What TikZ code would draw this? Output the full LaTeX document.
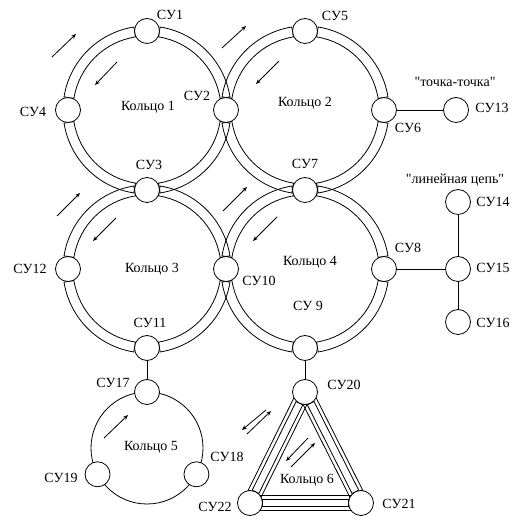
\documentclass[tikz,border=0pt]{standalone}
\usepackage{fontspec}
\setmainfont{Liberation Serif}[Ligatures=TeXOff]
\usetikzlibrary{calc,arrows.meta,backgrounds}
\begin{document}
\begin{tikzpicture}[x=1pt,y=1pt,
  su/.style={circle,draw,fill=white,minimum size=25pt,inner sep=0pt,line width=0.8pt},
  lbl/.style={font=\fontsize{14}{16}\selectfont,inner sep=0pt},
  ln/.style={line width=0.8pt},
  arr/.style={line width=0.8pt,-{Stealth[length=5pt,width=4pt]}}]
\useasboundingbox (0,0) rectangle (530,532);
% ring centres
\coordinate (C1) at (147,422);
\coordinate (C2) at (305,422);
\coordinate (C3) at (147,263);
\coordinate (C4) at (305,263);
\coordinate (C5) at (147,84);
% nodes
\node[su] (SU1) at (147,501) {};
\node[su] (SU2) at (226,422) {};
\node[su] (SU3) at (147,342) {};
\node[su] (SU4) at (68,422) {};
\node[su] (SU5) at (305,501) {};
\node[su] (SU6) at (384,422) {};
\node[su] (SU7) at (305,342) {};
\node[su] (SU8) at (384,263) {};
\node[su] (SU9) at (305,184) {};
\node[su] (SU10) at (226,263) {};
\node[su] (SU11) at (147,184) {};
\node[su] (SU12) at (68,263) {};
\node[su] (SU13) at (456,422) {};
\node[su] (SU14) at (458,330) {};
\node[su] (SU15) at (458,263) {};
\node[su] (SU16) at (458,210) {};
\node[su] (SU17) at ($(C5)+(90:56pt)$) {};
\node[su] (SU18) at ($(C5)+(-28:56pt)$) {};
\node[su] (SU19) at ($(C5)+(208:56pt)$) {};
\node[su] (SU20) at (305,140) {};
\node[su] (SU21) at (361,29) {};
\node[su] (SU22) at (250,29) {};
\begin{scope}[on background layer]
  % double rings 1-4
  \foreach \c in {C1,C2,C3,C4}{
    \foreach \a [evaluate=\a as \s using \a+9, evaluate=\a as \e using \a+81] in {0,90,180,270}{
      \draw[ln] ($(\c)+(\s:84pt)$) arc[start angle=\s, end angle=\e, radius=84pt]
        -- ($(\c)+(\e:74pt)$) arc[start angle=\e, end angle=\s, radius=74pt] -- cycle;
    }
  }
  % ring 5
  \draw[ln] (C5) circle[radius=56pt];
  % ring 6 (triangle)
  \foreach \p/\q in {SU20/SU21,SU21/SU22,SU22/SU20}{
    \draw[ln] ($(\p)!7.3pt!90:(\q)$) -- ($(\q)!7.3pt!-90:(\p)$);
    \draw[ln] ($(\p)!7.3pt!-90:(\q)$) -- ($(\q)!7.3pt!90:(\p)$);
    \coordinate (tA) at ($(\p)!12.5pt!(\q)$);
    \coordinate (tB) at ($(\q)!12.5pt!(\p)$);
    \draw[ln] ($(tA)!3.7pt!90:(tB)$) -- ($(tB)!3.7pt!-90:(tA)$)
      -- ($(tB)!3.7pt!90:(tA)$) -- ($(tA)!3.7pt!-90:(tB)$) -- cycle;
  }
  % connectors
  \draw[ln] (SU6) -- (SU13);
  \draw[ln] (SU8) -- (SU15);
  \draw[ln] (SU14) -- (SU15);
  \draw[ln] (SU15) -- (SU16);
  \draw[ln] (SU11) -- (SU17);
  \draw[ln] (SU9) -- (SU20);
\end{scope}
% direction arrows
\draw[arr] (52,475) -- (76,498);
\draw[arr] (117,470) -- (95,447);
\draw[arr] (222,484) -- (246,506);
\draw[arr] (279,471) -- (256,448);
\draw[arr] (57,316) -- (80,339);
\draw[arr] (116,314) -- (93,291);
\draw[arr] (223,321) -- (247,345);
\draw[arr] (277,315) -- (253,291);
\draw[arr] (104,94) -- (128,117);
\draw[arr] (266,122) -- (242,102);
\draw[arr] (247,98) -- (271,121);
\draw[arr] (308,94) -- (286,71);
\draw[arr] (291,65) -- (315,89);
% labels
\node[lbl] (L1) at (170,517) {СУ1};
\node[lbl] (L2) at (197,436) {СУ2};
\node[lbl] (L3) at (149,367) {СУ3};
\node[lbl] (L4) at (33,420) {СУ4};
\node[lbl] (K1) at (148,425) {Кольцо 1};
\node[lbl] (L5) at (335,516) {СУ5};
\node[lbl] (L6) at (408,404) {СУ6};
\node[lbl] (L7) at (305,368) {СУ7};
\node[lbl] (K2) at (305,429) {Кольцо 2};
\node[lbl] (L13) at (492,424) {СУ13};
\node[lbl] (PP) at (455,450) {"точка-точка"};
\node[lbl] (LC) at (455,352) {"линейная цепь"};
\node[lbl] (L12) at (30,263) {СУ12};
\node[lbl] (K3) at (152,263) {Кольцо 3};
\node[lbl] (L11) at (150,209) {СУ11};
\node[lbl] (L10) at (259,251) {СУ10};
\node[lbl] (K4) at (310,270) {Кольцо 4};
\node[lbl] (L9) at (308,226) {СУ 9};
\node[lbl] (L8) at (408,284) {СУ8};
\node[lbl] (L14) at (493,330) {СУ14};
\node[lbl] (L15) at (493,264) {СУ15};
\node[lbl] (L16) at (493,209) {СУ16};
\node[lbl] (L17) at (113,149) {СУ17};
\node[lbl] (K5) at (151,85) {Кольцо 5};
\node[lbl] (L18) at (227,75) {СУ18};
\node[lbl] (L19) at (61,54) {СУ19};
\node[lbl] (L22) at (215,25) {СУ22};
\node[lbl] (K6) at (307,52) {Кольцо 6};
\node[lbl] (L21) at (399,28) {СУ21};
\node[lbl] (L20) at (344,147) {СУ20};
\end{tikzpicture}
\end{document}
